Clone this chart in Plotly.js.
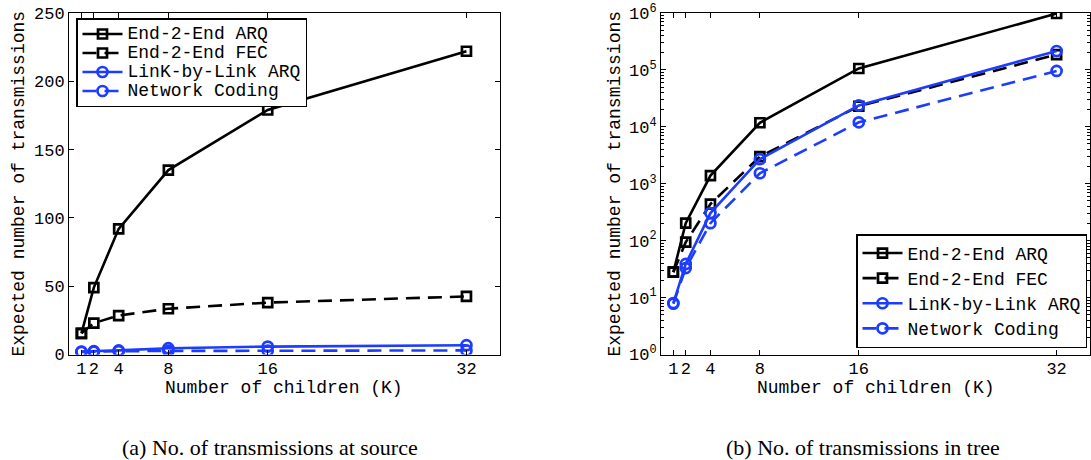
<!DOCTYPE html>
<html>
<head>
<meta charset="utf-8">
<script src="https://cdn.plot.ly/plotly-3.0.1.min.js"></script>
<style>html,body{margin:0;padding:0;background:#fff;}</style>
</head>
<body>
<div id="chart" style="width:1091px;height:460px;"></div>
<script>
// ---- data ----
const K = [1, 2, 4, 8, 16, 32];
const xTickLabels = ['1', '2', '4', '8', '16', '32'];
const seriesNames = ['End-2-End ARQ', 'End-2-End FEC', 'LinK-by-Link ARQ', 'Network Coding'];

// (a) transmissions at source
const srcE2eArq = [15.5, 49, 92, 135, 179, 222];
const srcE2eFec = [15.5, 23, 28.5, 33.5, 38, 42.5];
const srcLinkArq = [2.2, 2.4, 3.0, 4.6, 5.8, 6.8];
const srcNetCod = [1.9, 2.1, 2.4, 2.6, 2.8, 3.0];

// (b) transmissions in tree
const treeE2eArq = [28, 203, 1390, 11800, 106000, 980000];
const treeE2eFec = [28, 94, 440, 3000, 23000, 186000];
const treeLinkArq = [8, 39, 305, 2700, 23800, 215000];
const treeNetCod = [7.8, 33, 203, 1530, 12000, 96000];

const logTickVals = [1, 10, 100, 1000, 10000, 100000, 1000000];
const logTickText = ['10<sup>0</sup>', '10<sup>1</sup>', '10<sup>2</sup>', '10<sup>3</sup>', '10<sup>4</sup>', '10<sup>5</sup>', '10<sup>6</sup>'];

const captionA = '(a) No. of transmissions at source';
const captionB = '(b) No. of transmissions in tree';
const yTitle = 'Expected number of transmissions';
const xTitle = 'Number of children (K)';

// ---- styles ----
const MONO = 'Liberation Mono, DejaVu Sans Mono, monospace';
const SERIF = 'Liberation Serif, DejaVu Serif, serif';
const BLUE = 'rgb(28,60,255)';
const styles = [
  {color: 'black', dash: 'solid', symbol: 'square-open', size: 9},
  {color: 'black', dash: '14px,8px', symbol: 'square-open', size: 9},
  {color: BLUE, dash: 'solid', symbol: 'circle-open', size: 10},
  {color: BLUE, dash: '14px,8px', symbol: 'circle-open', size: 10}
];

function mk(y, i, xa, ya, leg) {
  const s = styles[i];
  return {
    x: K, y: y, type: 'scatter', mode: 'lines+markers',
    xaxis: xa, yaxis: ya, legend: leg,
    name: '<span style="font-size:18px">' + seriesNames[i] + '</span>',
    line: {color: s.color, width: 2.6, dash: s.dash},
    marker: {symbol: s.symbol, size: s.size, color: s.color, line: {width: 2.7, color: s.color}}
  };
}

const data = [
  mk(srcE2eArq, 0, 'x', 'y', 'legend'),
  mk(srcE2eFec, 1, 'x', 'y', 'legend'),
  mk(srcLinkArq, 2, 'x', 'y', 'legend'),
  mk(srcNetCod, 3, 'x', 'y', 'legend'),
  mk(treeE2eArq, 0, 'x2', 'y2', 'legend2'),
  mk(treeE2eFec, 1, 'x2', 'y2', 'legend2'),
  mk(treeLinkArq, 2, 'x2', 'y2', 'legend2'),
  mk(treeNetCod, 3, 'x2', 'y2', 'legend2')
];

const W = 1091, H = 460;
const yDom = [(H - 354.5) / H, (H - 13) / H];
const xDomA = [69 / W, 500 / W];
const xDomB = [661 / W, 1090 / W];

function xAxis(dom, anchor) {
  return {
    domain: dom, anchor: anchor, range: [0, 34.7],
    tickmode: 'array', tickvals: K, ticktext: xTickLabels,
    ticks: 'inside', ticklen: 5, tickwidth: 1, tickcolor: 'black',
    ticklabelstandoff: -2,
    showline: true, linecolor: 'black', linewidth: 1, mirror: 'ticks',
    showgrid: false, zeroline: false,
    tickfont: {family: MONO, size: 17, color: 'black'},
    automargin: false
  };
}

const annoBase = {xref: 'paper', yref: 'paper', showarrow: false, xanchor: 'center', yanchor: 'middle', borderpad: 0};

const layout = {
  width: W, height: H,
  margin: {l: 0, r: 0, t: 0, b: 0},
  paper_bgcolor: 'white', plot_bgcolor: 'white',
  font: {family: MONO, color: 'black'},
  xaxis: xAxis(xDomA, 'y'),
  xaxis2: xAxis(xDomB, 'y2'),
  yaxis: {
    domain: yDom, anchor: 'x', range: [0, 250], tickmode: 'linear', tick0: 0, dtick: 50,
    ticks: 'inside', ticklen: 5, tickwidth: 1, tickcolor: 'black',
    showline: true, linecolor: 'black', linewidth: 1, mirror: 'ticks',
    showgrid: false, zeroline: false,
    tickfont: {family: MONO, size: 17, color: 'black'},
    title: {text: yTitle, font: {family: MONO, size: 18, color: 'black'}, standoff: 4},
    automargin: false
  },
  yaxis2: {
    domain: yDom, anchor: 'x2', type: 'log', range: [0, 6],
    tickmode: 'array', tickvals: logTickVals, ticktext: logTickText,
    ticks: 'inside', ticklen: 5, tickwidth: 1, tickcolor: 'black',
    minor: {dtick: 'D1', ticks: 'inside', ticklen: 3, tickwidth: 1, tickcolor: 'black', showgrid: false},
    showline: true, linecolor: 'black', linewidth: 1, mirror: 'ticks',
    showgrid: false, zeroline: false,
    tickfont: {family: MONO, size: 17, color: 'black'},
    title: {text: yTitle, font: {family: MONO, size: 18, color: 'black'}, standoff: 3},
    automargin: false
  },
  legend: {
    x: 76 / W, y: (H - 18) / H, xanchor: 'left', yanchor: 'top',
    bgcolor: 'white', bordercolor: 'black', borderwidth: 1.5,
    font: {family: MONO, size: 12, color: 'black'}, itemwidth: 40, tracegroupgap: 0
  },
  legend2: {
    x: 856 / W, y: (H - 234) / H, xanchor: 'left', yanchor: 'top',
    bgcolor: 'white', bordercolor: 'black', borderwidth: 1.5,
    font: {family: MONO, size: 17, color: 'black'}, itemwidth: 40, tracegroupgap: 0
  },
  annotations: [
    Object.assign({text: xTitle, x: (xDomA[0] + xDomA[1]) / 2, y: (H - 388) / H,
      font: {family: MONO, size: 18, color: 'black'}}, annoBase),
    Object.assign({text: xTitle, x: (xDomB[0] + xDomB[1]) / 2, y: (H - 388) / H,
      font: {family: MONO, size: 18, color: 'black'}}, annoBase),
    Object.assign({text: captionA, x: 270 / W, y: (H - 447) / H,
      font: {family: SERIF, size: 22, color: 'black'}}, annoBase),
    Object.assign({text: captionB, x: 863 / W, y: (H - 447) / H,
      font: {family: SERIF, size: 22, color: 'black'}}, annoBase)
  ],
  showlegend: true,
  hovermode: false
};

Plotly.newPlot('chart', data, layout, {displayModeBar: false, staticPlot: true});
</script>
</body>
</html>
